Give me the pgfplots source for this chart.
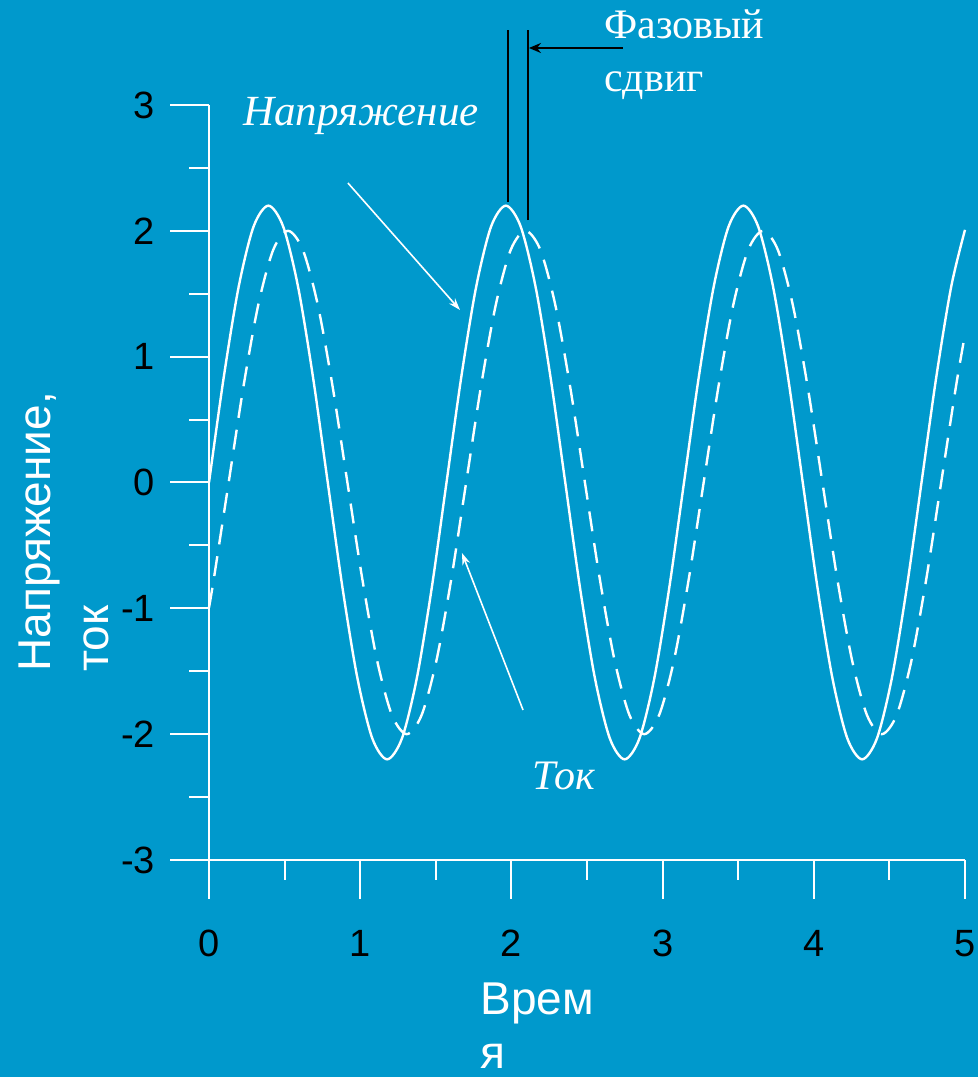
\documentclass[border=0pt]{standalone}
\usepackage{fontspec}
\setmainfont{Liberation Serif}
\newfontfamily\arial{Liberation Sans}
\usepackage{pgfplots}
\pgfplotsset{compat=1.18}
\usetikzlibrary{arrows.meta}
\definecolor{bg}{RGB}{0,153,204}

\begin{document}
\begin{tikzpicture}
\fill[bg] (0,0) rectangle (489pt,538.5pt);
\begin{axis}[
  at={(104.5pt,108.5pt)}, anchor=south west,
  scale only axis, width=378pt, height=377.5pt,
  xmin=0, xmax=5, ymin=-3, ymax=3,
  axis lines*=left,
  axis line style={white, line width=1pt},
  every tick/.style={white, line width=1pt},
  tick align=outside,
  major tick length=19.5pt, minor tick length=10pt,
  xtick={0,1,2,3,4,5}, ytick={-3,-2,-1,0,1,2,3},
  minor tick num=1,
  ticklabel style={font=\arial\fontsize{19}{22}\selectfont, text=black},
  xticklabel style={yshift=-12pt},
  yticklabel style={xshift=-4pt},
  /pgf/number format/assume math mode=true,
  clip=false,
]
% voltage (solid)
\addplot[white, line width=1.2pt, smooth] coordinates {
(0,0) (0.0982,0.842) (0.1963,1.556) (0.2945,2.033) (0.3927,2.2) (0.4909,2.033)
(0.5890,1.556) (0.6872,0.842) (0.7854,0) (0.8836,-0.842) (0.9817,-1.556)
(1.0799,-2.033) (1.1781,-2.2) (1.2763,-2.033) (1.3744,-1.556) (1.4726,-0.842)
(1.5708,0) (1.6690,0.842) (1.7671,1.556) (1.8653,2.033) (1.9635,2.2)
(2.0617,2.033) (2.1598,1.556) (2.2580,0.842) (2.3562,0) (2.4544,-0.842)
(2.5525,-1.556) (2.6507,-2.033) (2.7489,-2.2) (2.8471,-2.033) (2.9452,-1.556)
(3.0434,-0.842) (3.1416,0) (3.2398,0.842) (3.3379,1.556) (3.4361,2.033)
(3.5343,2.2) (3.6325,2.033) (3.7306,1.556) (3.8288,0.842) (3.9270,0)
(4.0252,-0.842) (4.1233,-1.556) (4.2215,-2.033) (4.3197,-2.2) (4.4179,-2.033)
(4.5160,-1.556) (4.6142,-0.842) (4.7124,0) (4.8106,0.842) (4.9087,1.556)
(5,2.008)
};
% current (dashed)
\addplot[white, line width=1.2pt, smooth, dash pattern=on 10pt off 6pt] coordinates {
(0,-0.994) (0.032,-0.765) (0.13,0) (0.2282,0.765) (0.3263,1.414) (0.4245,1.848)
(0.5227,2) (0.6209,1.848) (0.7190,1.414) (0.8172,0.765) (0.9154,0)
(1.0136,-0.765) (1.1117,-1.414) (1.2099,-1.848) (1.3081,-2) (1.4063,-1.848)
(1.5044,-1.414) (1.6026,-0.765) (1.7008,0) (1.7990,0.765) (1.8971,1.414)
(1.9953,1.848) (2.0935,2) (2.1917,1.848) (2.2898,1.414) (2.3880,0.765)
(2.4862,0) (2.5844,-0.765) (2.6825,-1.414) (2.7807,-1.848) (2.8789,-2)
(2.9771,-1.848) (3.0752,-1.414) (3.1734,-0.765) (3.2716,0) (3.3698,0.765)
(3.4679,1.414) (3.5661,1.848) (3.6643,2) (3.7625,1.848) (3.8606,1.414)
(3.9588,0.765) (4.0570,0) (4.1552,-0.765) (4.2533,-1.414) (4.3515,-1.848)
(4.4497,-2) (4.5479,-1.848) (4.6460,-1.414) (4.7442,-0.765) (4.8424,0)
(4.9406,0.765) (5,1.178)
};
% phase shift markers
\draw[black, line width=1pt] (axis cs:1.977,2.229) -- (axis cs:1.977,3.596);
\draw[black, line width=1pt] (axis cs:2.110,2.086) -- (axis cs:2.110,3.596);
\draw[black, line width=1pt, -{Stealth[length=6pt,width=5pt]}] (axis cs:2.738,3.453) -- (axis cs:2.116,3.453);
\node[anchor=base west, inner sep=0, text=white, font=\fontsize{21}{25}\selectfont] at (axis cs:2.612,3.525) {Фазовый};
\node[anchor=base west, inner sep=0, text=white, font=\fontsize{21}{25}\selectfont] at (axis cs:2.612,3.111) {сдвиг};
% labels of curves
\node[anchor=base west, inner sep=0, text=white, font=\itshape\fontsize{21.5}{26}\selectfont] at (axis cs:0.2249,2.841) {Напряжение};
\node[anchor=base west, inner sep=0, text=white, font=\itshape\fontsize{21}{25}\selectfont] at (axis cs:2.136,-2.436) {Ток};
\draw[white, line width=0.8pt, -{Stealth[length=6pt,width=4pt]}] (axis cs:0.919,2.380) -- (axis cs:1.660,1.371);
\draw[white, line width=0.8pt, -{Stealth[length=6pt,width=4pt]}] (axis cs:2.077,-1.808) -- (axis cs:1.673,-0.560);
\end{axis}
% axis labels
\node[anchor=base west, inner sep=0, rotate=90, text=white, font=\arial\fontsize{23}{28}\selectfont] at (25pt,202.5pt) {Напряжение,};
\node[anchor=base west, inner sep=0, rotate=90, text=white, font=\arial\fontsize{23}{28}\selectfont] at (54pt,202.5pt) {ток};
\node[anchor=base west, inner sep=0, text=white, font=\arial\fontsize{23}{28}\selectfont] at (240pt,31pt) {Врем};
\node[anchor=base west, inner sep=0, text=white, font=\arial\fontsize{23}{28}\selectfont] at (240pt,4.5pt) {я};
\pgfresetboundingbox
\path[use as bounding box] (0,0) rectangle (489pt,538.5pt);
\end{tikzpicture}
\end{document}
